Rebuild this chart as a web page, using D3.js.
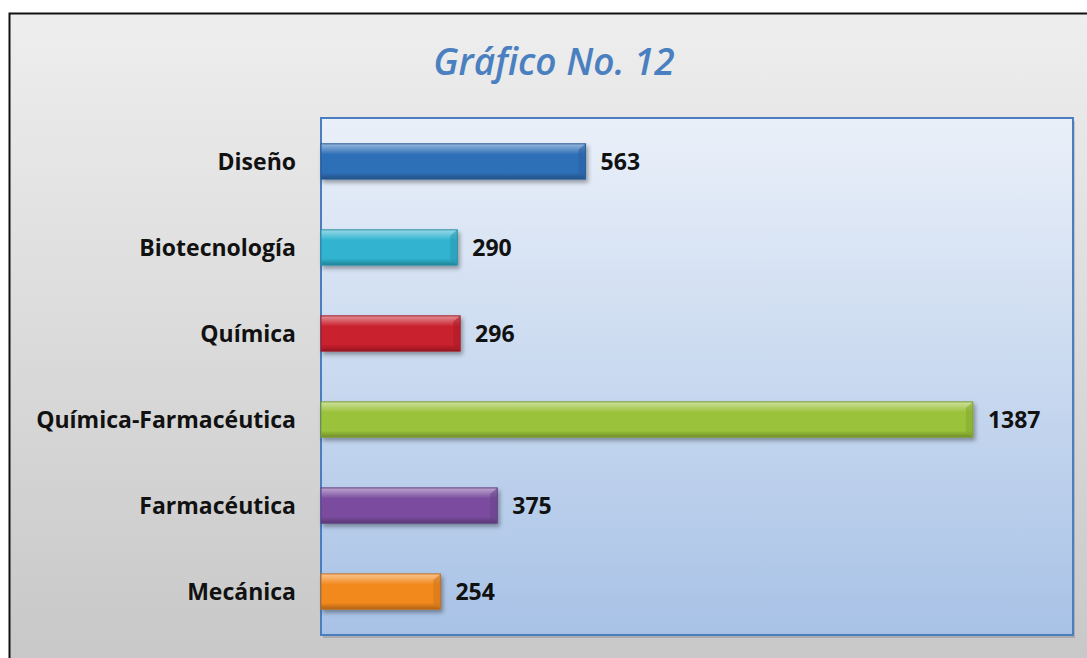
<!DOCTYPE html>
<html>
<head>
<meta charset="utf-8">
<script src="https://cdn.jsdelivr.net/npm/d3@7"></script>
<style>
  body { margin: 0; background: #fff; }
  text { font-family: "Open Sans", "DejaVu Sans", sans-serif; }
</style>
</head>
<body>
<div id="chart"></div>
<script>
var categories = ["Diseño", "Biotecnología", "Química", "Química-Farmacéutica", "Farmacéutica", "Mecánica"];
var values = [563, 290, 296, 1387, 375, 254];
var barColors = ["#2f6fb8", "#30b3cf", "#c9202e", "#9bc23a", "#7a4c9f", "#f2891e"];

var svgWidth = 1087;
var svgHeight = 658;

var plot = { left: 321, top: 118, right: 1073, bottom: 635 };

var svg = d3.select("#chart")
    .append("svg")
    .attr("width", svgWidth)
    .attr("height", svgHeight);

var defs = svg.append("defs");

var bg = defs.append("linearGradient").attr("id", "bg")
    .attr("x1", 0).attr("y1", 0).attr("x2", 0).attr("y2", 1);
bg.append("stop").attr("offset", "0%").attr("stop-color", "#eeeeee");
bg.append("stop").attr("offset", "100%").attr("stop-color", "#c6c6c6");

var pg = defs.append("linearGradient").attr("id", "plotbg")
    .attr("x1", 0).attr("y1", 0).attr("x2", 0).attr("y2", 1);
pg.append("stop").attr("offset", "0%").attr("stop-color", "#eaf0f9");
pg.append("stop").attr("offset", "100%").attr("stop-color", "#a8c2e6");

var shadow = defs.append("filter").attr("id", "shadow")
    .attr("x", "-10%").attr("y", "-30%").attr("width", "130%").attr("height", "180%");
shadow.append("feDropShadow").attr("dx", 2).attr("dy", 3).attr("stdDeviation", 2)
    .attr("flood-color", "#000").attr("flood-opacity", 0.35);

barColors.forEach(function(c, i) {
  var g = defs.append("linearGradient").attr("id", "bar" + i)
      .attr("x1", 0).attr("y1", 0).attr("x2", 0).attr("y2", 1);
  var base = d3.color(c);
  g.append("stop").attr("offset", "0%").attr("stop-color", d3.interpolateRgb(c, "#ffffff")(0.5));
  g.append("stop").attr("offset", "18%").attr("stop-color", d3.interpolateRgb(c, "#ffffff")(0.2));
  g.append("stop").attr("offset", "30%").attr("stop-color", c);
  g.append("stop").attr("offset", "82%").attr("stop-color", c);
  g.append("stop").attr("offset", "100%").attr("stop-color", base.darker(0.9));
});

// outer frame
svg.append("rect")
    .attr("x", 9.5).attr("y", 13.5)
    .attr("width", svgWidth + 20).attr("height", svgHeight + 20)
    .attr("fill", "url(#bg)")
    .attr("stroke", "#111").attr("stroke-width", 2);

svg.append("text")
    .attr("x", 554).attr("y", 75)
    .attr("text-anchor", "middle")
    .style("font-size", "37px")
    .style("font-style", "italic")
    .style("font-weight", 600)
    .attr("fill", "#4a7fc0")
    .text("Gráfico No. 12");

// plot area
svg.append("rect")
    .attr("x", plot.left + 2).attr("y", plot.top + 3)
    .attr("width", plot.right - plot.left).attr("height", plot.bottom - plot.top)
    .attr("fill", "#000").attr("opacity", 0.15);
svg.append("rect")
    .attr("x", plot.left).attr("y", plot.top)
    .attr("width", plot.right - plot.left).attr("height", plot.bottom - plot.top)
    .attr("fill", "url(#plotbg)")
    .attr("stroke", "#4a7ebf").attr("stroke-width", 2);

var xScale = d3.scaleLinear()
    .domain([0, 1600])
    .range([plot.left, plot.right]);

var yScale = d3.scaleBand()
    .domain(categories)
    .range([plot.top, plot.bottom])
    .paddingInner(0.59)
    .paddingOuter(0.3);

var rows = categories.map(function(c, i) { return { name: c, value: values[i], idx: i }; });

var bars = svg.selectAll("g.bar")
    .data(rows)
    .enter()
    .append("g")
    .attr("class", "bar");

bars.append("rect")
    .attr("x", xScale(0))
    .attr("y", d => yScale(d.name))
    .attr("width", d => xScale(d.value) - xScale(0))
    .attr("height", yScale.bandwidth())
    .attr("fill", d => "url(#bar" + d.idx + ")")
    .attr("stroke", d => d3.color(barColors[d.idx]).darker(0.6))
    .attr("stroke-width", 1)
    .attr("filter", "url(#shadow)");

// right bevel
bars.append("path")
    .attr("d", function(d) {
      var x1 = xScale(d.value), y0 = yScale(d.name), h = yScale.bandwidth();
      return "M" + (x1 - 7) + "," + (y0 + 6) + "L" + x1 + "," + y0 +
             "L" + x1 + "," + (y0 + h) + "L" + (x1 - 7) + "," + (y0 + h - 5) + "Z";
    })
    .attr("fill", d => d3.color(barColors[d.idx]).darker(0.4))
    .attr("opacity", 0.6);

bars.append("text")
    .attr("x", d => xScale(d.value) + 15)
    .attr("y", d => yScale(d.name) + yScale.bandwidth() / 2)
    .attr("dy", "0.36em")
    .style("font-size", "23px")
    .style("font-weight", "bold")
    .attr("fill", "#111")
    .text(d => d.value);

svg.append("g")
    .selectAll("text")
    .data(categories)
    .enter()
    .append("text")
    .attr("x", 296)
    .attr("y", d => yScale(d) + yScale.bandwidth() / 2)
    .attr("dy", "0.36em")
    .attr("text-anchor", "end")
    .style("font-size", "23px")
    .style("font-weight", "bold")
    .attr("fill", "#111")
    .text(d => d);
</script>
</body>
</html>
